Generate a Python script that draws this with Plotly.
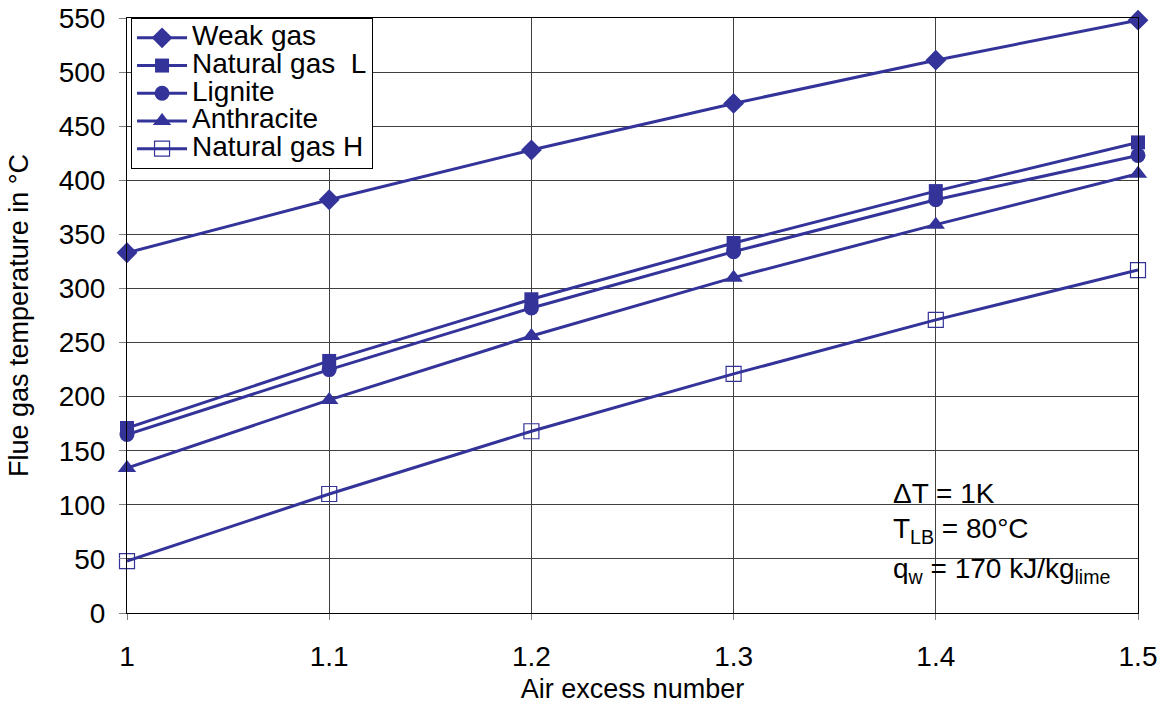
import plotly.graph_objects as go

# Air excess number (lambda)
air_excess = [1.0, 1.1, 1.2, 1.3, 1.4, 1.5]

# Flue gas temperature in °C per fuel
weak_gas = [333, 382, 428, 471, 511, 548]
natural_gas_l = [171, 233, 290, 342, 390, 435]
lignite = [165, 225, 282, 334, 382, 423]
anthracite = [134, 197, 256, 310, 359, 406]
natural_gas_h = [48, 110, 168, 221, 271, 317]

y_ticks = list(range(0, 551, 50))
x_ticks = [1.0, 1.1, 1.2, 1.3, 1.4, 1.5]
x_tick_labels = ["1", "1.1", "1.2", "1.3", "1.4", "1.5"]

COLOR = "#333399"
FONT = "Liberation Sans, Arial, sans-serif"
BIG = 28

series = [
    ("Weak gas", weak_gas, dict(symbol="diamond", size=16, color=COLOR)),
    ("Natural gas  L", natural_gas_l, dict(symbol="square", size=14, color=COLOR)),
    ("Lignite", lignite, dict(symbol="circle", size=15, color=COLOR)),
    ("Anthracite", anthracite, dict(symbol="triangle-up", size=16, color=COLOR)),
    ("Natural gas H", natural_gas_h,
     dict(symbol="square-open", size=15, color=COLOR, line=dict(width=1.2, color=COLOR))),
]

fig = go.Figure()
for name, values, marker in series:
    fig.add_trace(go.Scatter(
        x=air_excess, y=values,
        # legend rows are spaced by the legend font size; the label itself is larger
        name=f'<span style="font-size:{BIG}px">{name}</span>',
        mode="lines+markers",
        line=dict(color=COLOR, width=3), marker=marker, cliponaxis=False,
    ))

fig.update_layout(
    width=1160, height=708,
    margin=dict(l=127, r=22, t=18, b=95),
    paper_bgcolor="white", plot_bgcolor="white",
    font=dict(family=FONT, size=BIG, color="black"),
    showlegend=True,
    legend=dict(
        x=0.004, y=1.0, xanchor="left", yanchor="top",
        bgcolor="white", bordercolor="black", borderwidth=1,
        font=dict(size=19, family=FONT), tracegroupgap=0,
        itemwidth=50,
    ),
    xaxis=dict(
        range=[1.0, 1.5], tickvals=x_ticks, ticktext=x_tick_labels,
        showgrid=True, gridcolor="#404040", gridwidth=1,
        showline=True, linecolor="black", linewidth=1, mirror=True,
        ticks="outside", ticklen=6, tickcolor="#808080",
        zeroline=False, automargin=False, ticklabelstandoff=12,
        title=dict(text="Air excess number", font=dict(size=27), standoff=8),
        tickfont=dict(size=BIG),
    ),
    yaxis=dict(
        range=[0, 550], tickvals=y_ticks,
        showgrid=True, gridcolor="#404040", gridwidth=1,
        showline=True, linecolor="black", linewidth=1, mirror=True,
        ticks="outside", ticklen=7, tickcolor="#808080",
        zeroline=False, automargin=False, ticklabelstandoff=8,
        title=dict(text="Flue gas temperature in °C", font=dict(size=27), standoff=22),
        tickfont=dict(size=BIG),
    ),
)

notes = [
    ("ΔT = 1K", 493),
    ("T<sub>LB</sub> = 80°C", 530),
    ("q<sub>w</sub> = 170 kJ/kg<sub>lime</sub>", 570),
]
for text, ypx in notes:
    fig.add_annotation(
        text=text, xref="paper", yref="paper",
        x=(891 - 127) / (1138 - 127), y=(613 - ypx) / (613 - 18),
        xanchor="left", yanchor="middle", showarrow=False,
        font=dict(size=BIG, family=FONT, color="black"),
    )

fig.write_html("out.html")
